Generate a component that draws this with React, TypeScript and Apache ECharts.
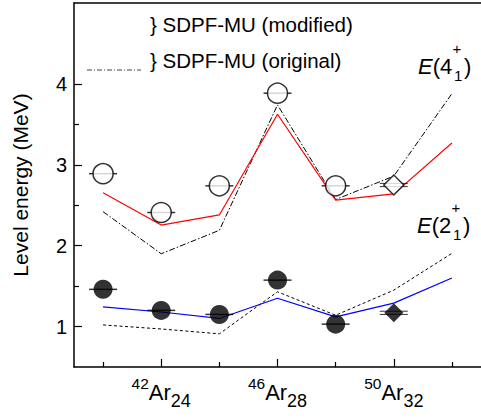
import React, { useEffect, useRef } from "react";
import * as echarts from "echarts";

// Mass numbers for calculated (shell-model) lines
const massLine = [40, 42, 44, 46, 48, 50, 52];
const e4Modified = [2.655, 2.255, 2.38, 3.625, 2.564, 2.64, 3.27];
const e4Original = [2.42, 1.9, 2.19, 3.74, 2.57, 2.86, 3.88];
const e2Modified = [1.244, 1.18, 1.1, 1.35, 1.12, 1.29, 1.6];
const e2Original = [1.02, 0.97, 0.91, 1.43, 1.14, 1.45, 1.905];

// Experimental data
const massExp = [40, 42, 44, 46, 48];
const e4Exp = [2.89, 2.41, 2.74, 3.885, 2.74];
const e2Exp = [1.46, 1.2, 1.15, 1.574, 1.03];
const massDiamond = [50];
const e4Diamond = [2.75];
const e2Diamond = [1.17];

// Axis labels
const labelMass = [42, 46, 50];
const labelSup = ["42", "46", "50"];
const labelSub = ["24", "28", "32"];
const yLabels = [1, 2, 3, 4];
const yMinorTicks = [1.5, 2.5, 3.5];
const xMinorTicks = [40, 44, 48, 52];

const FONT = "'Liberation Sans', Arial, Helvetica, sans-serif";

const zip = (xs: number[], ys: number[]) => xs.map((x, i) => [x, ys[i]]);

function stateLabel(x: number, y: number, spin: string) {
  return {
    type: "group",
    x,
    y,
    children: [
      {
        type: "text",
        x: 0,
        y: 0,
        style: {
          text: "{i|E}{n|(" + spin + "}",
          rich: {
            i: { fontStyle: "italic", fontSize: 22, fontFamily: FONT, fill: "#000" },
            n: { fontSize: 22, fontFamily: FONT, fill: "#000" },
          },
          verticalAlign: "middle",
          align: "left",
        },
      },
      {
        type: "text",
        x: 34.5,
        y: -18,
        style: { text: "+", fontSize: 15, fontFamily: FONT, fill: "#000", verticalAlign: "middle", align: "left" },
      },
      {
        type: "text",
        x: 36,
        y: 9,
        style: { text: "1", fontSize: 15, fontFamily: FONT, fill: "#000", verticalAlign: "middle", align: "left" },
      },
      {
        type: "text",
        x: 46,
        y: 0,
        style: { text: ")", fontSize: 22, fontFamily: FONT, fill: "#000", verticalAlign: "middle", align: "left" },
      },
    ],
  };
}

export default function App() {
  const ref = useRef<HTMLDivElement>(null);
  useEffect(() => {
    if (!ref.current) return;
    const chart = echarts.init(ref.current, null, { renderer: "svg" });
    const axisLine = { show: true, lineStyle: { color: "#000", width: 1.5 } };
    const errBar = {
      type: "scatter",
      symbol: "rect",
      symbolSize: [28, 1.5],
      itemStyle: { color: "#000" },
      z: 3,
      silent: true,
    };
    chart.setOption({
      animation: false,
      grid: { left: 74, right: -1, top: 3, bottom: 51, containLabel: false },
      xAxis: [
        {
          type: "value",
          min: 39,
          max: 53,
          interval: 1,
          position: "bottom",
          axisLine,
          splitLine: { show: false },
          axisTick: {
            show: true,
            inside: true,
            length: 8,
            customValues: labelMass,
            lineStyle: { color: "#000", width: 1.2 },
          },
          axisLabel: {
            show: true,
            customValues: labelMass,
            margin: 8,
            formatter: (v: number) => {
              const i = labelMass.indexOf(v);
              if (i < 0) return "";
              return `{sup|${labelSup[i]}}{main|Ar}{sub|${labelSub[i]}}`;
            },
            rich: {
              sup: { fontSize: 15.5, fontFamily: FONT, color: "#000", verticalAlign: "top", lineHeight: 15 },
              main: { fontSize: 22, fontFamily: FONT, color: "#000", lineHeight: 35 },
              sub: { fontSize: 18, fontFamily: FONT, color: "#000", verticalAlign: "bottom", lineHeight: 11 },
            },
          },
        },
        {
          type: "value",
          min: 39,
          max: 53,
          interval: 1,
          position: "bottom",
          axisLine: { show: false },
          splitLine: { show: false },
          axisTick: {
            show: true,
            inside: true,
            length: 5,
            customValues: xMinorTicks,
            lineStyle: { color: "#000", width: 1.2 },
          },
          axisLabel: { show: false },
        },
        {
          type: "value",
          min: 39,
          max: 53,
          interval: 1,
          position: "top",
          axisLine,
          splitLine: { show: false },
          axisTick: { show: false },
          axisLabel: { show: false },
        },
      ],
      yAxis: [
        {
          type: "value",
          min: 0.5,
          max: 5,
          interval: 0.5,
          position: "left",
          axisLine,
          splitLine: { show: false },
          axisTick: {
            show: true,
            inside: true,
            length: 8,
            customValues: yLabels,
            lineStyle: { color: "#000", width: 1.2 },
          },
          axisLabel: {
            show: true,
            customValues: yLabels,
            margin: 7,
            fontSize: 20,
            fontFamily: FONT,
            color: "#000",
          },
          name: "Level energy (MeV)",
          nameLocation: "middle",
          nameGap: 43,
          nameTextStyle: { fontSize: 21, fontFamily: FONT, color: "#000" },
        },
        {
          type: "value",
          min: 0.5,
          max: 5,
          interval: 0.5,
          position: "left",
          axisLine: { show: false },
          splitLine: { show: false },
          axisTick: {
            show: true,
            inside: true,
            length: 5,
            customValues: yMinorTicks,
            lineStyle: { color: "#000", width: 1.2 },
          },
          axisLabel: { show: false },
        },
      ],
      graphic: [
        {
          type: "text",
          x: 150,
          y: 24,
          style: {
            text: "} SDPF-MU (modified)",
            fontSize: 20.5,
            fontFamily: FONT,
            fill: "#000",
            verticalAlign: "middle",
          },
        },
        {
          type: "text",
          x: 150,
          y: 60,
          style: {
            text: "} SDPF-MU (original)",
            fontSize: 20.5,
            fontFamily: FONT,
            fill: "#000",
            verticalAlign: "middle",
          },
        },
        {
          type: "line",
          shape: { x1: 87, y1: 70, x2: 141, y2: 70 },
          style: { stroke: "#444", lineWidth: 1, lineDash: [5, 2, 1, 2] },
        },
        stateLabel(418, 66, "4"),
        stateLabel(417, 225.5, "2"),
      ],
      series: [
        {
          type: "line",
          data: zip(massLine, e4Original),
          symbol: "none",
          lineStyle: { color: "#000", width: 1, type: [6, 2, 1.5, 2] },
          z: 2,
        },
        {
          type: "line",
          data: zip(massLine, e4Modified),
          symbol: "none",
          lineStyle: { color: "#ff0000", width: 1.2 },
          z: 2,
        },
        {
          type: "line",
          data: zip(massLine, e2Original),
          symbol: "none",
          lineStyle: { color: "#000", width: 1, type: [3, 2.5] },
          z: 2,
        },
        {
          type: "line",
          data: zip(massLine, e2Modified),
          symbol: "none",
          lineStyle: { color: "#0000ff", width: 1.2 },
          z: 2,
        },
        { ...errBar, data: zip(massExp, e4Exp) },
        { ...errBar, data: zip(massExp, e2Exp) },
        { ...errBar, symbolSize: [28, 1], symbolOffset: [0, -1.6], data: zip(massDiamond, e4Diamond) },
        { ...errBar, symbolSize: [28, 1], symbolOffset: [0, 1.6], data: zip(massDiamond, e4Diamond) },
        { ...errBar, symbolSize: [28, 1], symbolOffset: [0, -1.6], data: zip(massDiamond, e2Diamond) },
        { ...errBar, symbolSize: [28, 1], symbolOffset: [0, 1.6], data: zip(massDiamond, e2Diamond) },
        {
          type: "scatter",
          data: zip(massExp, e4Exp),
          symbol: "circle",
          symbolSize: 20,
          itemStyle: { color: "#fff", borderColor: "#000", borderWidth: 1.5 },
          z: 4,
        },
        {
          type: "scatter",
          data: zip(massDiamond, e4Diamond),
          symbol: "diamond",
          symbolSize: 20,
          itemStyle: { color: "#fff", borderColor: "#000", borderWidth: 1.5 },
          z: 4,
        },
        {
          type: "scatter",
          data: zip(massExp, e2Exp),
          symbol: "circle",
          symbolSize: 19,
          itemStyle: { color: "#000" },
          z: 4,
        },
        {
          type: "scatter",
          data: zip(massDiamond, e2Diamond),
          symbol: "diamond",
          symbolSize: 19,
          itemStyle: { color: "#000" },
          z: 4,
        },
      ],
    });
    return () => chart.dispose();
  }, []);
  return (
    <div
      ref={ref}
      style={{ position: "fixed", left: 0, top: 0, width: 481, height: 418, background: "#fff" }}
    />
  );
}
